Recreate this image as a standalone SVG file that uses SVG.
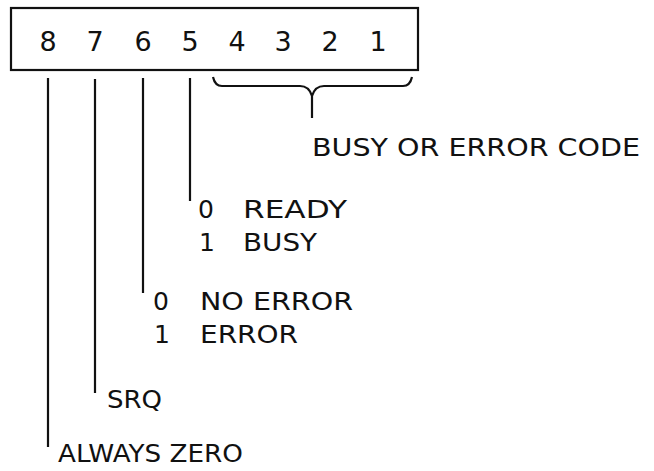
<svg xmlns="http://www.w3.org/2000/svg" width="654" height="471" viewBox="0 0 654 471">
<style>
text{font-family:"DejaVu Sans","Liberation Sans",sans-serif;fill:#111;}
.d{font-size:27px;text-anchor:middle;}
.t{font-size:25px;}
.ln{stroke:#111;stroke-width:2.2;fill:none;}
</style>
<rect width="654" height="471" fill="#fff"/>
<g id="register">
<rect x="11" y="8" width="407" height="62" class="ln"/>
<text class="d" x="48" y="51">8</text>
<text class="d" x="95" y="51">7</text>
<text class="d" x="143" y="51">6</text>
<text class="d" x="190" y="51">5</text>
<text class="d" x="237" y="51">4</text>
<text class="d" x="283" y="51">3</text>
<text class="d" x="330" y="51">2</text>
<text class="d" x="378" y="51">1</text>
</g>
<g id="connectors">
<line class="ln" x1="48" y1="78" x2="48" y2="447"/>
<line class="ln" x1="95" y1="79" x2="95" y2="393"/>
<line class="ln" x1="143" y1="78" x2="143" y2="293"/>
<line class="ln" x1="190" y1="78" x2="190" y2="201"/>
<path class="ln" d="M213,77 Q215,86 222,86 L300,86 Q309,86 312,96 L312,118 M312,96 Q315,86 324,86 L403,86 Q410,86 412,77"/>
</g>
<g id="busy-error-code"><text class="t" x="312" y="156" textLength="328" lengthAdjust="spacingAndGlyphs">BUSY OR ERROR CODE</text></g>
<g id="bit5">
<text class="t" x="198" y="218">0</text><text class="t" x="243" y="218" textLength="104" lengthAdjust="spacingAndGlyphs">READY</text>
<text class="t" x="199" y="251">1</text><text class="t" x="243" y="251" textLength="74" lengthAdjust="spacingAndGlyphs">BUSY</text>
</g>
<g id="bit6">
<text class="t" x="153" y="310">0</text><text class="t" x="200" y="310" textLength="153" lengthAdjust="spacingAndGlyphs">NO ERROR</text>
<text class="t" x="154" y="343">1</text><text class="t" x="200" y="343" textLength="98" lengthAdjust="spacingAndGlyphs">ERROR</text>
</g>
<g id="bit7"><text class="t" x="107" y="408" textLength="55" lengthAdjust="spacingAndGlyphs">SRQ</text></g>
<g id="bit8"><text class="t" x="58" y="462" textLength="185" lengthAdjust="spacingAndGlyphs">ALWAYS ZERO</text></g>
</svg>
